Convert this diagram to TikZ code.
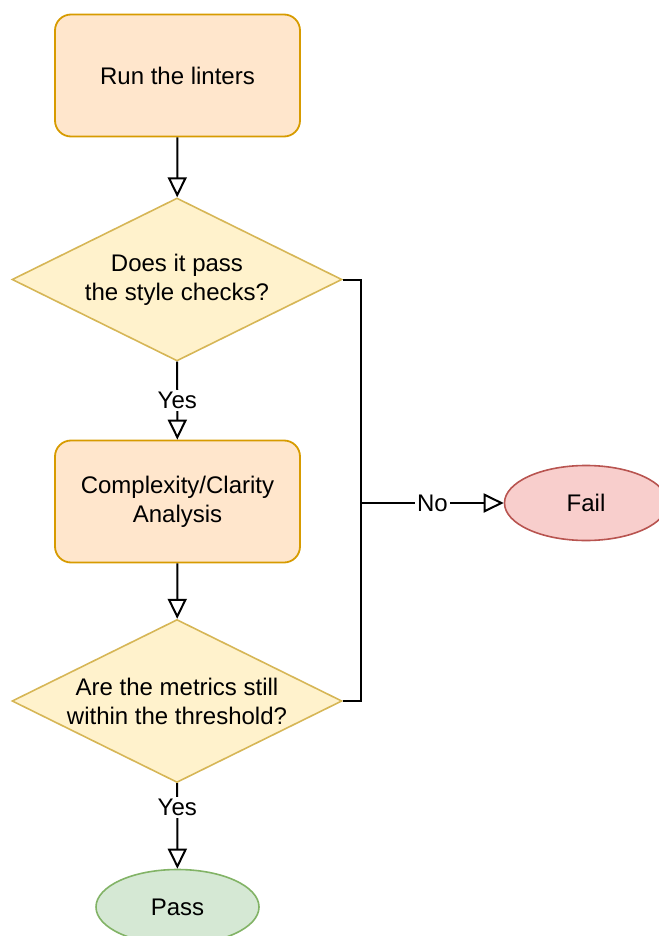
\documentclass[tikz,border=0pt]{standalone}
\usepackage{fontspec}
\setmainfont{Liberation Sans}
\usetikzlibrary{shapes.geometric, arrows.meta}
\definecolor{stepfill}{HTML}{FFE6CC}
\definecolor{stepline}{HTML}{D79B00}
\definecolor{askfill}{HTML}{FFF2CC}
\definecolor{askline}{HTML}{D6B656}
\definecolor{failfill}{HTML}{F8CECC}
\definecolor{failline}{HTML}{B85450}
\definecolor{passfill}{HTML}{D5E8D4}
\definecolor{passline}{HTML}{82B366}

\begin{document}
\begin{tikzpicture}[
    x=0.5pt, y=-0.5pt,
    every node/.style={font=\fontsize{12}{14.5}\selectfont},
    task/.style={draw=stepline, fill=stepfill, line width=0.9pt, rounded corners=8pt, minimum width=122.5pt, minimum height=61pt, align=center},
    ask/.style={diamond, draw=askline, fill=askfill, line width=0.8pt, aspect=2.02, minimum width=165pt, minimum height=81.5pt, inner sep=0pt, align=center},
    outcome/.style={ellipse, line width=0.8pt, minimum width=81.5pt, minimum height=37.5pt},
    flow/.style={-{Triangle[open, length=10pt, width=9.5pt]}, line width=1pt},
    lbl/.style={fill=white, inner sep=1pt},
]
    \useasboundingbox (0,0) rectangle (658,936);

    % steps and checks down the middle
    \node[task] (lint) at (177.5,75.5) {Run the linters};
    \node[ask] (style) at (177,279.5) {Does it pass\\the style checks?};
    \node[task] (cca) at (177.5,501.5) {Complexity/Clarity\\Analysis};
    \node[ask] (metric) at (177,701) {Are the metrics still\\within the threshold?};

    % end states
    \node[outcome, draw=passline, fill=passfill] (pass) at (177.5,907) {Pass};
    \node[outcome, draw=failline, fill=failfill] (fail) at (586,503) {Fail};

    % main flow
    \draw[flow] (lint) -- (style);
    \draw[flow] (style) -- node[lbl] {Yes} (cca);
    \draw[flow] (cca) -- (metric);
    \draw[flow] (metric) -- node[lbl, pos=0.28] {Yes} (pass);

    % both checks fail to the same place
    \coordinate (join) at (361,503);
    \draw[flow] (style.east) -| (join) -- node[lbl] {No} (fail);
    \draw[line width=1pt] (metric.east) -| (join);
\end{tikzpicture}
\end{document}
